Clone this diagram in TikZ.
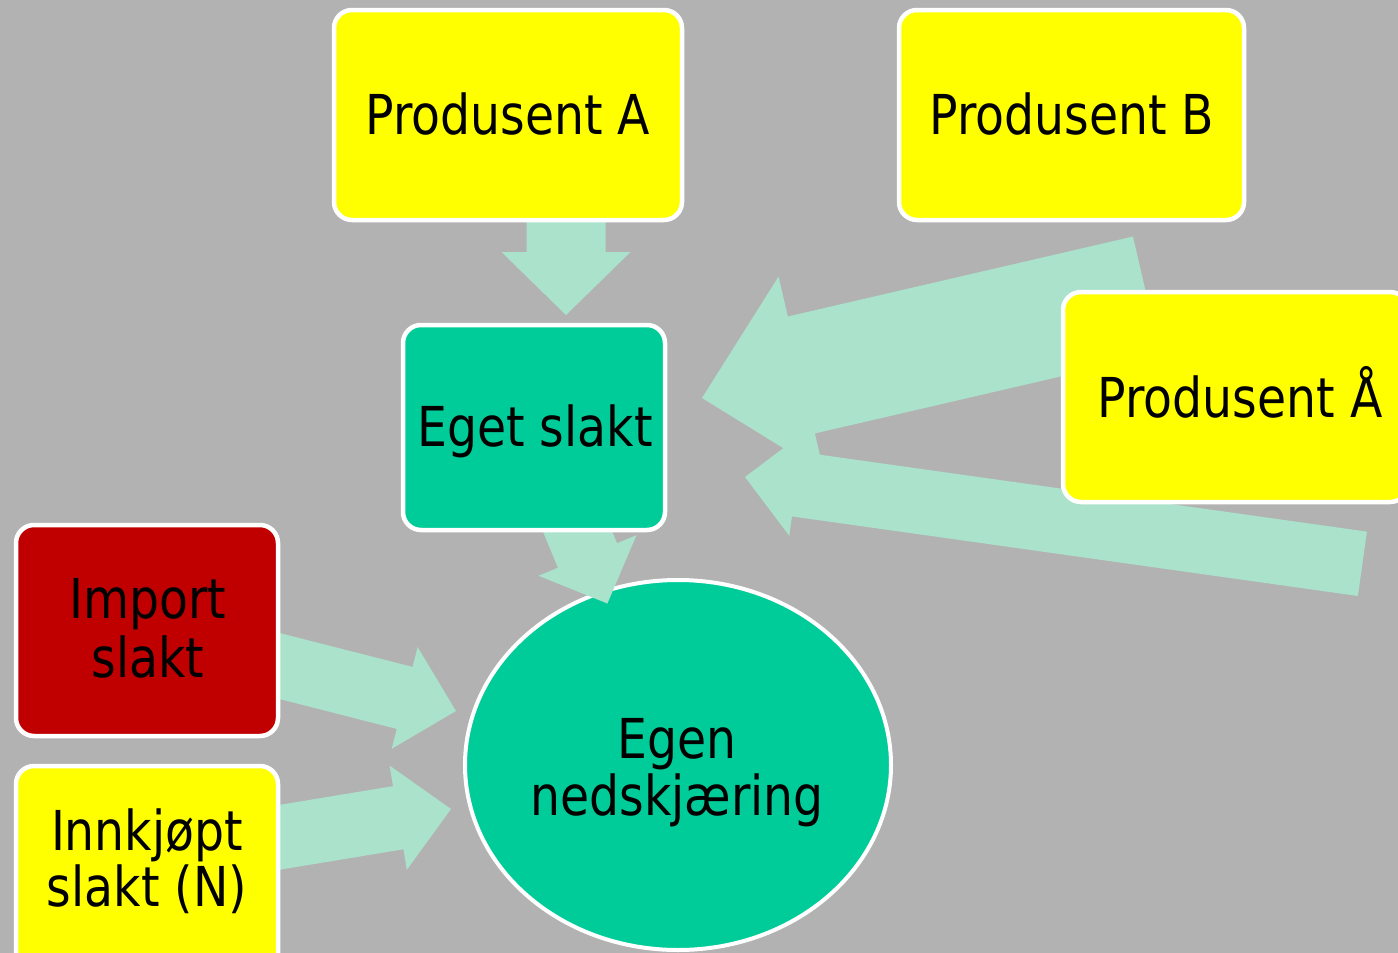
\documentclass[tikz,border=0pt]{standalone}
\usepackage{fontspec}
\setmainfont{DejaVu Sans}[FakeStretch=0.86]
\usetikzlibrary{calc,shapes.geometric}
\definecolor{bggray}{HTML}{B2B2B2}
\definecolor{boxyellow}{HTML}{FFFF00}
\definecolor{boxteal}{HTML}{00CC99}
\definecolor{boxred}{HTML}{C00000}
\definecolor{arrowmint}{HTML}{AAE2CC}
\newcommand\twolines[3]{\vtop{\baselineskip=#1\relax\halign{\hfil##\hfil\cr #2\cr #3\cr}}}
% tail, tip, shaft half width, head half width, head length
\newcommand\blockarrow[5]{%
  \coordinate (ba) at ($(#2)!#5!(#1)$);
  \fill[flowarrow] ($(#1)!#3!90:(#2)$) -- ($(ba)!#3!-90:(#1)$) -- ($(ba)!#4!-90:(#1)$)
    -- (#2) -- ($(ba)!#4!90:(#1)$) -- ($(ba)!#3!90:(#1)$) -- ($(#1)!#3!-90:(#2)$) -- cycle;}
\begin{document}
\begin{tikzpicture}[x=1pt,y=-1pt,
  box/.style={rectangle, rounded corners=18pt, draw=white, line width=4.5pt, inner sep=0pt},
  lbl/.style={font=\fontsize{55}{58}\selectfont, text=black, inner sep=0pt, anchor=base},
  flowarrow/.style={fill=arrowmint}]
\useasboundingbox (0,0) rectangle (1398,953);
\clip (0,0) rectangle (1398,953);
\fill[bggray] (0,0) rectangle (1398,953);

% central ellipse
\node[ellipse, fill=boxteal, draw=white, line width=4pt, inner sep=0pt,
      minimum width=426pt, minimum height=370pt] (egen) at (678,765) {};

% arrow end points
\coordinate (aT) at (566,150);   \coordinate (aH) at (566,315);
\coordinate (eT) at (530.8,418.7); \coordinate (eH) at (607.4,603.5);
\coordinate (bT) at (1146.5,295); \coordinate (bH) at (702,398);
\coordinate (oT) at (1362.4,563.8); \coordinate (oH) at (745,477);
\coordinate (iT) at (262.2,661.6); \coordinate (iH) at (456,711);
\coordinate (nT) at (253.6,841.6); \coordinate (nH) at (451,809);

\blockarrow{aT}{aH}{39.5pt}{64.5pt}{63pt}
\blockarrow{eT}{eH}{32pt}{53pt}{52pt}
\blockarrow{bT}{bH}{60pt}{101pt}{102pt}
\blockarrow{oT}{oH}{32.5pt}{52pt}{52pt}
\blockarrow{iT}{iH}{32pt}{52.5pt}{53pt}
\blockarrow{nT}{nH}{32pt}{52.8pt}{53.5pt}

% boxes
\node[box, fill=boxyellow, minimum width=348pt, minimum height=210pt] (pa) at (508,115) {};
\node[box, fill=boxyellow, minimum width=345pt, minimum height=210pt] (pb) at (1071.5,115) {};
\node[box, fill=boxyellow, minimum width=345pt, minimum height=210pt] (paa) at (1235.5,397) {};
\node[box, fill=boxteal, minimum width=262pt, minimum height=205pt] (eget) at (534,427.5) {};
\node[box, fill=boxred, minimum width=262pt, minimum height=211pt] (imp) at (147,630.5) {};
\node[box, fill=boxyellow, minimum width=262pt, minimum height=211pt] (innk) at (147,871.5) {};

% labels
\node[lbl] (pa-l) at (508,134) {Produsent A};
\node[lbl] (pb-l) at (1072,134) {Produsent B};
\node[lbl] (paa-l) at (1240,417) {Produsent Å};
\node[lbl] (eget-l) at (535,446) {Eget slakt};
\node[lbl] (imp-l) at (148,618) {\twolines{59pt}{Import}{slakt}};
\node[lbl] (innk-l) at (147,850) {\twolines{56pt}{Innkjøpt}{slakt (N)}};
\node[lbl] (egen-l) at (677,758) {\twolines{57pt}{Egen}{nedskjæring}};
\end{tikzpicture}
\end{document}
